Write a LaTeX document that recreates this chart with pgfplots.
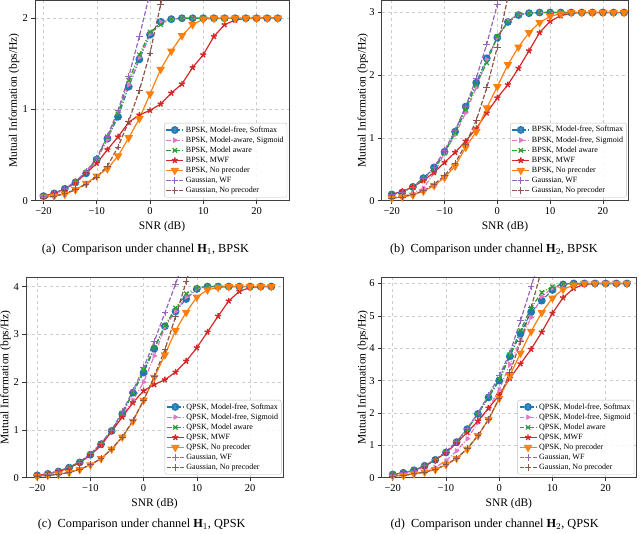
\documentclass[border=0pt]{standalone}
\usepackage{pgfplots}
\pgfplotsset{compat=1.18}
\usepackage{pgfplotstable}
\usepackage{fontspec}
\setmainfont{Liberation Serif}

\definecolor{c0}{HTML}{1F77B4}
\definecolor{c1}{HTML}{FF7F0E}
\definecolor{c2}{HTML}{2CA02C}
\definecolor{c3}{HTML}{D62728}
\definecolor{c4}{HTML}{9467BD}
\definecolor{c5}{HTML}{8C564B}
\definecolor{c6}{HTML}{E377C2}

% columns: SNR, softmax, sigmoid, model aware, MWF, no precoder, Gaussian WF, Gaussian no precoder
\pgfplotstableread{
x   sm   sg   ma   mwf  np   gwf  gnp
-20 0.05 0.04 0.05 0.05 0.04 0.05 0.03
-18 0.08 0.07 0.08 0.08 0.05 0.08 0.05
-16 0.13 0.12 0.13 0.13 0.07 0.13 0.08
-14 0.20 0.19 0.21 0.20 0.12 0.21 0.12
-12 0.30 0.31 0.31 0.30 0.19 0.32 0.18
-10 0.45 0.45 0.46 0.41 0.27 0.47 0.26
-8  0.68 0.67 0.70 0.56 0.35 0.71 0.38
-6  0.92 0.97 0.95 0.70 0.49 0.99 0.59
-4  1.25 1.27 1.32 0.86 0.69 1.36 0.87
-2  1.55 1.57 1.60 0.94 0.90 1.80 1.21
0   1.82 1.83 1.85 0.99 1.17 2.28 1.62
2   1.96 1.96 1.93 1.06 1.44 2.80 2.15
4   1.99 1.99 1.99 1.18 1.64 nan  2.70
6   2.00 2.00 2.00 1.28 1.81 nan  nan
8   2.00 2.00 2.00 1.46 1.93 nan  nan
10  2.00 2.00 2.00 1.60 1.99 nan  nan
12  2.00 2.00 2.00 1.80 2.00 nan  nan
14  2.00 2.00 2.00 1.93 2.00 nan  nan
16  2.00 2.00 2.00 1.98 2.00 nan  nan
18  2.00 2.00 2.00 2.00 2.00 nan  nan
20  2.00 2.00 2.00 2.00 2.00 nan  nan
22  2.00 2.00 2.00 2.00 2.00 nan  nan
24  2.00 2.00 2.00 2.00 2.00 nan  nan
}\tabA

\pgfplotstableread{
x   sm   sg   ma   mwf  np   gwf  gnp
-20 0.10 0.05 0.10 0.10 0.04 0.10 0.04
-18 0.13 0.07 0.14 0.15 0.06 0.14 0.06
-16 0.22 0.12 0.22 0.22 0.09 0.22 0.10
-14 0.36 0.20 0.35 0.32 0.15 0.35 0.16
-12 0.53 0.44 0.50 0.45 0.24 0.53 0.26
-10 0.78 0.76 0.76 0.61 0.37 0.80 0.40
-8  1.10 1.05 1.08 0.77 0.55 1.12 0.60
-6  1.50 1.40 1.45 0.95 0.85 1.50 0.90
-4  1.88 1.80 1.85 1.15 1.10 1.95 1.28
-2  2.27 2.25 2.20 1.40 1.48 2.50 1.80
0   2.60 2.60 2.62 1.64 1.82 3.13 2.45
2   2.85 2.87 2.85 1.85 2.17 3.75 3.25
4   2.96 2.97 2.97 2.11 2.45 nan  nan
6   2.99 2.99 2.99 2.39 2.68 nan  nan
8   3.00 3.00 3.00 2.68 2.84 nan  nan
10  3.00 3.00 3.00 2.86 2.94 nan  nan
12  3.00 3.00 3.00 2.95 2.98 nan  nan
14  3.00 3.00 3.00 2.99 3.00 nan  nan
16  3.00 3.00 3.00 3.00 3.00 nan  nan
18  3.00 3.00 3.00 3.00 3.00 nan  nan
20  3.00 3.00 3.00 3.00 3.00 nan  nan
22  3.00 3.00 3.00 3.00 3.00 nan  nan
24  3.00 3.00 3.00 3.00 3.00 nan  nan
}\tabB

\pgfplotstableread{
x   sm   sg   ma   mwf  np   gwf  gnp
-20 0.05 0.05 0.05 0.05 0.03 0.05 0.03
-18 0.08 0.08 0.08 0.08 0.05 0.08 0.05
-16 0.13 0.13 0.14 0.13 0.07 0.14 0.07
-14 0.21 0.21 0.22 0.20 0.11 0.22 0.11
-12 0.32 0.32 0.33 0.32 0.17 0.33 0.17
-10 0.48 0.47 0.49 0.47 0.27 0.50 0.27
-8  0.70 0.68 0.71 0.68 0.40 0.72 0.40
-6  0.98 0.97 0.99 0.97 0.60 1.00 0.60
-4  1.33 1.30 1.35 1.27 0.85 1.38 0.85
-2  1.78 1.62 1.78 1.57 1.18 1.82 1.20
0   2.20 2.00 2.25 1.82 1.62 2.30 1.62
2   2.70 2.55 2.72 1.95 2.10 2.85 2.12
4   3.17 3.15 3.18 2.05 2.57 3.45 2.68
6   3.48 3.48 3.55 2.21 3.08 4.05 3.37
8   3.74 3.78 3.85 2.44 3.46 4.70 4.10
10  3.95 3.96 3.97 2.72 3.78 nan  4.85
12  4.00 4.00 4.00 3.05 3.93 nan  nan
14  4.00 4.00 4.00 3.38 3.98 nan  nan
16  4.00 4.00 4.00 3.70 4.00 nan  nan
18  4.00 4.00 4.00 3.90 4.00 nan  nan
20  4.00 4.00 4.00 3.98 4.00 nan  nan
22  4.00 4.00 4.00 4.00 4.00 nan  nan
24  4.00 4.00 4.00 4.00 4.00 nan  nan
}\tabC

\pgfplotstableread{
x   sm   sg   ma   mwf  np   gwf  gnp
-20 0.10 0.06 0.10 0.10 0.05 0.10 0.05
-18 0.15 0.09 0.15 0.15 0.07 0.15 0.07
-16 0.23 0.13 0.23 0.22 0.12 0.23 0.12
-14 0.37 0.20 0.37 0.35 0.17 0.37 0.17
-12 0.55 0.32 0.55 0.55 0.25 0.56 0.26
-10 0.78 0.52 0.80 0.77 0.40 0.80 0.40
-8  1.10 0.83 1.10 1.07 0.60 1.12 0.60
-6  1.50 1.20 1.50 1.40 0.88 1.52 0.90
-4  1.97 1.70 1.98 1.75 1.30 2.00 1.30
-2  2.48 2.15 2.50 2.15 1.80 2.55 1.80
0   3.00 2.72 3.05 2.55 2.45 3.15 2.45
2   3.75 3.50 3.80 3.07 3.15 3.85 3.25
4   4.45 4.25 4.55 3.52 3.85 4.85 4.20
6   5.12 4.95 5.25 3.97 4.52 5.90 5.25
8   5.47 5.60 5.72 4.50 5.10 7.00 6.45
10  5.80 5.85 5.90 5.08 5.55 nan  nan
12  5.97 5.97 5.98 5.56 5.82 nan  nan
14  6.00 6.00 6.00 5.85 5.95 nan  nan
16  6.00 6.00 6.00 5.97 6.00 nan  nan
18  6.00 6.00 6.00 6.00 6.00 nan  nan
20  6.00 6.00 6.00 6.00 6.00 nan  nan
22  6.00 6.00 6.00 6.00 6.00 nan  nan
24  6.00 6.00 6.00 6.00 6.00 nan  nan
}\tabD

\pgfplotsset{
  mi/.style={
    scale only axis,
    axis line style={black!75, line width=0.6pt},
    grid=major,
    grid style={dashed, black!20, line width=0.5pt},
    tick align=outside, xtick pos=left, ytick pos=left,
    major tick length=3.5pt,
    tick style={black!80, line width=0.6pt},
    xtick={-20,-10,0,10,20},
    xticklabels={−20,−10,0,10,20},
    /pgf/number format/assume math mode=true,
    ticklabel style={font=\fontsize{10.5}{12}\selectfont},
    label style={font=\fontsize{11.5}{13}\selectfont},
    xlabel={SNR (dB)},
    ylabel={Mutual Information (bps/Hz)},
    ylabel style={at={([xshift=-#1]axis description cs:0,0.5)}, anchor=center},
    ymin=0,
    unbounded coords=jump,
    legend style={at={(0.993,0.016)}, anchor=south east,
      font=\fontsize{8}{8.8}\selectfont,
      draw=black!25, fill=white, fill opacity=0.85, text opacity=1,
      rounded corners=2pt, inner sep=1.3pt, row sep=-0.9pt},
    legend cell align=left,
    every axis plot/.append style={line width=1.2pt},
  },
  sm/.style={c0, dash pattern=on 4.8pt off 1.8pt on 1pt off 1.8pt, mark=*, mark size=3.3pt, mark options={solid, fill=c0}},
  sg/.style={c6, dash pattern=on 4.8pt off 1.8pt on 1pt off 1.8pt, mark=triangle*, mark size=2.1pt, mark options={solid, fill=c6, rotate=-90}},
  ma/.style={c2, dash pattern=on 4.8pt off 1.8pt on 1pt off 1.8pt, mark=x, mark size=3.1pt, mark options={solid}},
  mwf/.style={c3, solid, mark=star, mark size=3.1pt, mark options={solid, line width=1.4pt}},
  np/.style={c1, solid, mark=triangle*, mark size=3.8pt, mark options={solid, fill=c1, rotate=180}},
  gwf/.style={c4, dash pattern=on 4.6pt off 2pt, mark=+, mark size=3.3pt, mark options={solid, line width=0.7pt}},
  gnp/.style={c5, dash pattern=on 4.6pt off 2pt, mark=+, mark size=3.3pt, mark options={solid, line width=0.7pt}},
}

\begin{document}
\begin{tikzpicture}
\path[use as bounding box] (0pt,0pt) rectangle (640pt,534pt);

% (a) channel H1, BPSK
\begin{axis}[mi=21pt, at={(35pt,333.3pt)}, anchor=south west,
  width=254pt, height=200.7pt,
  xmin=-21.6, xmax=26.1, ymax=2.2, ytick={0,1,2}]
\addplot[sm]  table[x=x,y=sm]  {\tabA}; \addlegendentry{BPSK, Model-free, Softmax}
\addplot[sg]  table[x=x,y=sg]  {\tabA}; \addlegendentry{BPSK, Model-aware, Sigmoid}
\addplot[ma]  table[x=x,y=ma]  {\tabA}; \addlegendentry{BPSK, Model aware}
\addplot[mwf] table[x=x,y=mwf] {\tabA}; \addlegendentry{BPSK, MWF}
\addplot[np]  table[x=x,y=np]  {\tabA}; \addlegendentry{BPSK, No precoder}
\addplot[gwf] table[x=x,y=gwf] {\tabA}; \addlegendentry{Gaussian, WF}
\addplot[gnp] table[x=x,y=gnp] {\tabA}; \addlegendentry{Gaussian, No precoder}
\end{axis}

% (b) channel H2, BPSK
\begin{axis}[mi=19pt, at={(381.7pt,333.3pt)}, anchor=south west,
  width=246.6pt, height=200.7pt,
  xmin=-21.9, xmax=24.8, ymax=3.2, ytick={0,1,2,3}]
\addplot[sm]  table[x=x,y=sm]  {\tabB}; \addlegendentry{BPSK, Model-free, Softmax}
\addplot[sg]  table[x=x,y=sg]  {\tabB}; \addlegendentry{BPSK, Model-free, Sigmoid}
\addplot[ma]  table[x=x,y=ma]  {\tabB}; \addlegendentry{BPSK, Model aware}
\addplot[mwf] table[x=x,y=mwf] {\tabB}; \addlegendentry{BPSK, MWF}
\addplot[np]  table[x=x,y=np]  {\tabB}; \addlegendentry{BPSK, No precoder}
\addplot[gwf] table[x=x,y=gwf] {\tabB}; \addlegendentry{Gaussian, WF}
\addplot[gnp] table[x=x,y=gnp] {\tabB}; \addlegendentry{Gaussian, No precoder}
\end{axis}

% (c) channel H1, QPSK
\begin{axis}[mi=20.5pt, at={(26pt,56.3pt)}, anchor=south west,
  width=257.3pt, height=200.7pt,
  xmin=-22.1, xmax=26.25, ymax=4.2, ytick={0,1,2,3,4}]
\addplot[sm]  table[x=x,y=sm]  {\tabC}; \addlegendentry{QPSK, Model-free, Softmax}
\addplot[sg]  table[x=x,y=sg]  {\tabC}; \addlegendentry{QPSK, Model-free, Sigmoid}
\addplot[ma]  table[x=x,y=ma]  {\tabC}; \addlegendentry{QPSK, Model aware}
\addplot[mwf] table[x=x,y=mwf] {\tabC}; \addlegendentry{QPSK, MWF}
\addplot[np]  table[x=x,y=np]  {\tabC}; \addlegendentry{QPSK, No precoder}
\addplot[gwf] table[x=x,y=gwf] {\tabC}; \addlegendentry{Gaussian, WF}
\addplot[gnp] table[x=x,y=gnp] {\tabC}; \addlegendentry{Gaussian, No precoder}
\end{axis}

% (d) channel H2, QPSK
\begin{axis}[mi=19pt, at={(381.7pt,56.3pt)}, anchor=south west,
  width=254.3pt, height=200.7pt,
  xmin=-22.07, xmax=25.7, ymax=6.2, ytick={0,1,2,3,4,5,6}]
\addplot[sm]  table[x=x,y=sm]  {\tabD}; \addlegendentry{QPSK, Model-free, Softmax}
\addplot[sg]  table[x=x,y=sg]  {\tabD}; \addlegendentry{QPSK, Model-free, Sigmoid}
\addplot[ma]  table[x=x,y=ma]  {\tabD}; \addlegendentry{QPSK, Model aware}
\addplot[mwf] table[x=x,y=mwf] {\tabD}; \addlegendentry{QPSK, MWF}
\addplot[np]  table[x=x,y=np]  {\tabD}; \addlegendentry{QPSK, No precoder}
\addplot[gwf] table[x=x,y=gwf] {\tabD}; \addlegendentry{Gaussian, WF}
\addplot[gnp] table[x=x,y=gnp] {\tabD}; \addlegendentry{Gaussian, No precoder}
\end{axis}

% sub-captions
\begin{scope}[every node/.style={font=\fontsize{12.3}{14}\selectfont, inner sep=0pt}]
\node at (145.5pt,284pt) {(a)\ \ Comparison under channel $\mathbf{H}_1$, BPSK};
\node at (494pt,284pt) {(b)\ \ Comparison under channel $\mathbf{H}_2$, BPSK};
\node at (141.7pt,9.3pt) {(c)\ \ Comparison under channel $\mathbf{H}_1$, QPSK};
\node at (494.7pt,9.3pt) {(d)\ \ Comparison under channel $\mathbf{H}_2$, QPSK};
\end{scope}
\end{tikzpicture}
\end{document}
